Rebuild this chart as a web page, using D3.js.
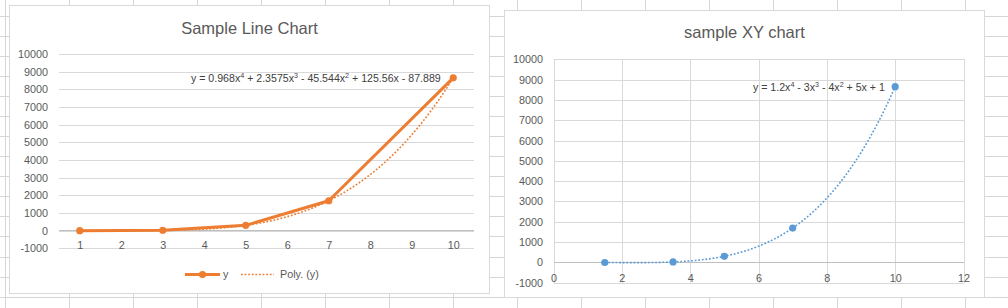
<!DOCTYPE html>
<html>
<head>
<meta charset="utf-8">
<script src="https://cdn.jsdelivr.net/npm/d3@7/dist/d3.min.js"></script>
<style>
  html, body { margin: 0; padding: 0; background: #fff; }
  svg { display: block; }
  text { font-family: "Liberation Sans", Arial, sans-serif; }
</style>
</head>
<body>
<svg id="c" width="1008" height="308"></svg>
<script>
// ---------- data ----------
const lineCategories = [1, 2, 3, 4, 5, 6, 7, 8, 9, 10];
const lineX = [1, 3, 5, 7, 10];
const lineY = [-5, 21, 301, 1692, 8651];
const lineTrendCoef = [-87.889, 125.56, -45.544, 2.3575, 0.968]; // c0..c4
const lineYTicks = [-1000, 0, 1000, 2000, 3000, 4000, 5000, 6000, 7000, 8000, 9000, 10000];
const lineTitle = "Sample Line Chart";
const lineSeriesName = "y";
const lineTrendName = "Poly. (y)";

const xyX = [1.5, 3.5, 5, 7, 10];
const xyY = [-5, 21, 301, 1692, 8651];
const xyTrendCoef = [1, 5, -4, -3, 1.2]; // c0..c4
const xyXTicks = [0, 2, 4, 6, 8, 10, 12];
const xyYTicks = [-1000, 0, 1000, 2000, 3000, 4000, 5000, 6000, 7000, 8000, 9000, 10000];
const xyTitle = "sample XY chart";

const ORANGE = "#ED7D31", BLUE = "#5B9BD5";
const GRID = "#d9d9d9", AXIS = "#bfbfbf", LABEL = "#595959", EQ = "#404040";
const fmt = d => String(d);

const svg = d3.select("#c");

// ---------- spreadsheet background ----------
const sheet = svg.append("g").attr("stroke", "#d6d6d6").attr("stroke-width", 1);
for (let x = 5; x < 1008; x += 64) {
  sheet.append("line").attr("x1", x + 0.5).attr("x2", x + 0.5).attr("y1", 0).attr("y2", 308);
}
for (let y = 15.7; y < 308; y += 20.07) {
  const yy = Math.round(y) + 0.5;
  sheet.append("line").attr("x1", 0).attr("x2", 1008).attr("y1", yy).attr("y2", yy);
}

function polyVal(coef, x) {
  return coef.reduce((s, c, i) => s + c * Math.pow(x, i), 0);
}

function equationText(g, x, y, parts) {
  const t = g.append("text").attr("x", x).attr("y", y)
    .attr("fill", EQ).attr("font-size", 10.6);
  let raised = false;
  parts.forEach(p => {
    if (p.sup) {
      t.append("tspan").attr("dy", -4).attr("font-size", 7.2).text(p.sup);
      raised = true;
    } else {
      const s = t.append("tspan").text(p.t);
      if (raised) { s.attr("dy", 4); raised = false; }
    }
  });
}

function styleText(sel) {
  sel.attr("fill", LABEL).attr("font-size", 10.8)
    .attr("font-family", "Liberation Sans, Arial, sans-serif");
}

// ---------- left: line chart ----------
{
  const g = svg.append("g");
  g.append("rect").attr("x", 9.5).attr("y", 5.5).attr("width", 480).attr("height", 288)
    .attr("fill", "#fff").attr("stroke", GRID);

  g.append("text").attr("x", 249.5).attr("y", 34).attr("text-anchor", "middle")
    .attr("fill", LABEL).attr("font-size", 16.5).text(lineTitle);

  const left = 59, right = 474;
  const x = d3.scalePoint().domain(lineCategories).range([left, right]).padding(0.5);
  const xc = d3.scaleLinear().domain([1, 10]).range([x(1), x(10)]);
  const y = d3.scaleLinear().domain([-1000, 10000]).range([248.3, 54]);

  const grid = g.append("g").attr("transform", `translate(${left},0)`)
    .call(d3.axisLeft(y).tickValues(lineYTicks).tickSize(-(right - left)).tickFormat(""));
  grid.select(".domain").remove();
  grid.selectAll("line").attr("stroke", GRID).attr("shape-rendering", "crispEdges");

  g.append("line").attr("x1", left).attr("x2", right).attr("y1", y(0)).attr("y2", y(0))
    .attr("stroke", AXIS).attr("shape-rendering", "crispEdges");

  const ya = g.append("g").attr("transform", `translate(${left},0)`)
    .call(d3.axisLeft(y).tickValues(lineYTicks).tickFormat(fmt).tickSize(0).tickPadding(11));
  ya.select(".domain").remove();
  styleText(ya.selectAll("text"));

  const xa = g.append("g").attr("transform", `translate(0,${y(0)})`)
    .call(d3.axisBottom(x).tickFormat(fmt).tickSize(0).tickPadding(11));
  xa.select(".domain").remove();
  styleText(xa.selectAll("text"));

  const pts = lineX.map((d, i) => [d, lineY[i]]);
  g.append("path").datum(pts)
    .attr("d", d3.line().x(d => x(d[0])).y(d => y(d[1])))
    .attr("fill", "none").attr("stroke", ORANGE).attr("stroke-width", 3)
    .attr("stroke-linejoin", "round");
  g.selectAll("circle.m").data(pts).join("circle")
    .attr("cx", d => x(d[0])).attr("cy", d => y(d[1])).attr("r", 3.6)
    .attr("fill", ORANGE);

  const tr = d3.range(1, 10.0001, 0.05).map(v => [v, polyVal(lineTrendCoef, v)]);
  g.append("path").datum(tr)
    .attr("d", d3.line().x(d => xc(d[0])).y(d => y(d[1])))
    .attr("fill", "none").attr("stroke", ORANGE).attr("stroke-width", 1.6)
    .attr("stroke-dasharray", "1.8 1.8");

  equationText(g, 191, 82, [
    {t: "y = 0.968x"}, {sup: "4"}, {t: " + 2.3575x"}, {sup: "3"},
    {t: " - 45.544x"}, {sup: "2"}, {t: " + 125.56x - 87.889"}
  ]);

  const ly = 274.5;
  g.append("line").attr("x1", 185).attr("x2", 220).attr("y1", ly).attr("y2", ly)
    .attr("stroke", ORANGE).attr("stroke-width", 3);
  g.append("circle").attr("cx", 202.5).attr("cy", ly).attr("r", 3.6).attr("fill", ORANGE);
  g.append("text").attr("x", 223).attr("y", ly + 3.8).attr("fill", LABEL)
    .attr("font-size", 10.8).text(lineSeriesName);
  g.append("line").attr("x1", 241).attr("x2", 274).attr("y1", ly).attr("y2", ly)
    .attr("stroke", ORANGE).attr("stroke-width", 1.6).attr("stroke-dasharray", "1.8 1.8");
  g.append("text").attr("x", 280).attr("y", ly + 3.8).attr("fill", LABEL)
    .attr("font-size", 10.8).text(lineTrendName);
}

// ---------- right: XY chart ----------
{
  const g = svg.append("g");
  g.append("rect").attr("x", 504.5).attr("y", 10.5).attr("width", 480).attr("height", 287)
    .attr("fill", "#fff").attr("stroke", GRID);

  g.append("text").attr("x", 744.5).attr("y", 38.3).attr("text-anchor", "middle")
    .attr("fill", LABEL).attr("font-size", 16.5).text(xyTitle);

  const x = d3.scaleLinear().domain([0, 12]).range([553.5, 963.5]);
  const y = d3.scaleLinear().domain([-1000, 10000]).range([282.7, 59.3]);
  const top = y(10000), bottom = y(-1000);

  const hg = g.append("g").attr("transform", `translate(${x(0)},0)`)
    .call(d3.axisLeft(y).tickValues(xyYTicks).tickSize(-(x(12) - x(0))).tickFormat(""));
  hg.select(".domain").remove();
  hg.selectAll("line").attr("stroke", GRID).attr("shape-rendering", "crispEdges");

  const vg = g.append("g").attr("transform", `translate(0,${top})`)
    .call(d3.axisBottom(x).tickValues(xyXTicks).tickSize(bottom - top).tickFormat(""));
  vg.select(".domain").remove();
  vg.selectAll("line").attr("stroke", GRID).attr("shape-rendering", "crispEdges");

  g.append("line").attr("x1", x(0)).attr("x2", x(12)).attr("y1", y(0)).attr("y2", y(0))
    .attr("stroke", AXIS).attr("shape-rendering", "crispEdges");

  const ya = g.append("g").attr("transform", `translate(${x(0)},0)`)
    .call(d3.axisLeft(y).tickValues(xyYTicks).tickFormat(fmt).tickSize(0).tickPadding(10.5));
  ya.select(".domain").remove();
  styleText(ya.selectAll("text"));

  const xa = g.append("g").attr("transform", `translate(0,${y(0)})`)
    .call(d3.axisBottom(x).tickValues(xyXTicks).tickFormat(fmt).tickSize(0).tickPadding(12));
  xa.select(".domain").remove();
  styleText(xa.selectAll("text"));

  const tr = d3.range(xyX[0], xyX[xyX.length - 1] + 0.0001, 0.05).map(v => [v, polyVal(xyTrendCoef, v)]);
  g.append("path").datum(tr)
    .attr("d", d3.line().x(d => x(d[0])).y(d => y(d[1])))
    .attr("fill", "none").attr("stroke", BLUE).attr("stroke-width", 1.6)
    .attr("stroke-dasharray", "1.8 1.8");

  const pts = xyX.map((d, i) => [d, xyY[i]]);
  g.selectAll("circle.p").data(pts).join("circle")
    .attr("cx", d => x(d[0])).attr("cy", d => y(d[1])).attr("r", 3.6)
    .attr("fill", BLUE);

  equationText(g, 753, 91, [
    {t: "y = 1.2x"}, {sup: "4"}, {t: " - 3x"}, {sup: "3"},
    {t: " - 4x"}, {sup: "2"}, {t: " + 5x + 1"}
  ]);
}
</script>
</body>
</html>
